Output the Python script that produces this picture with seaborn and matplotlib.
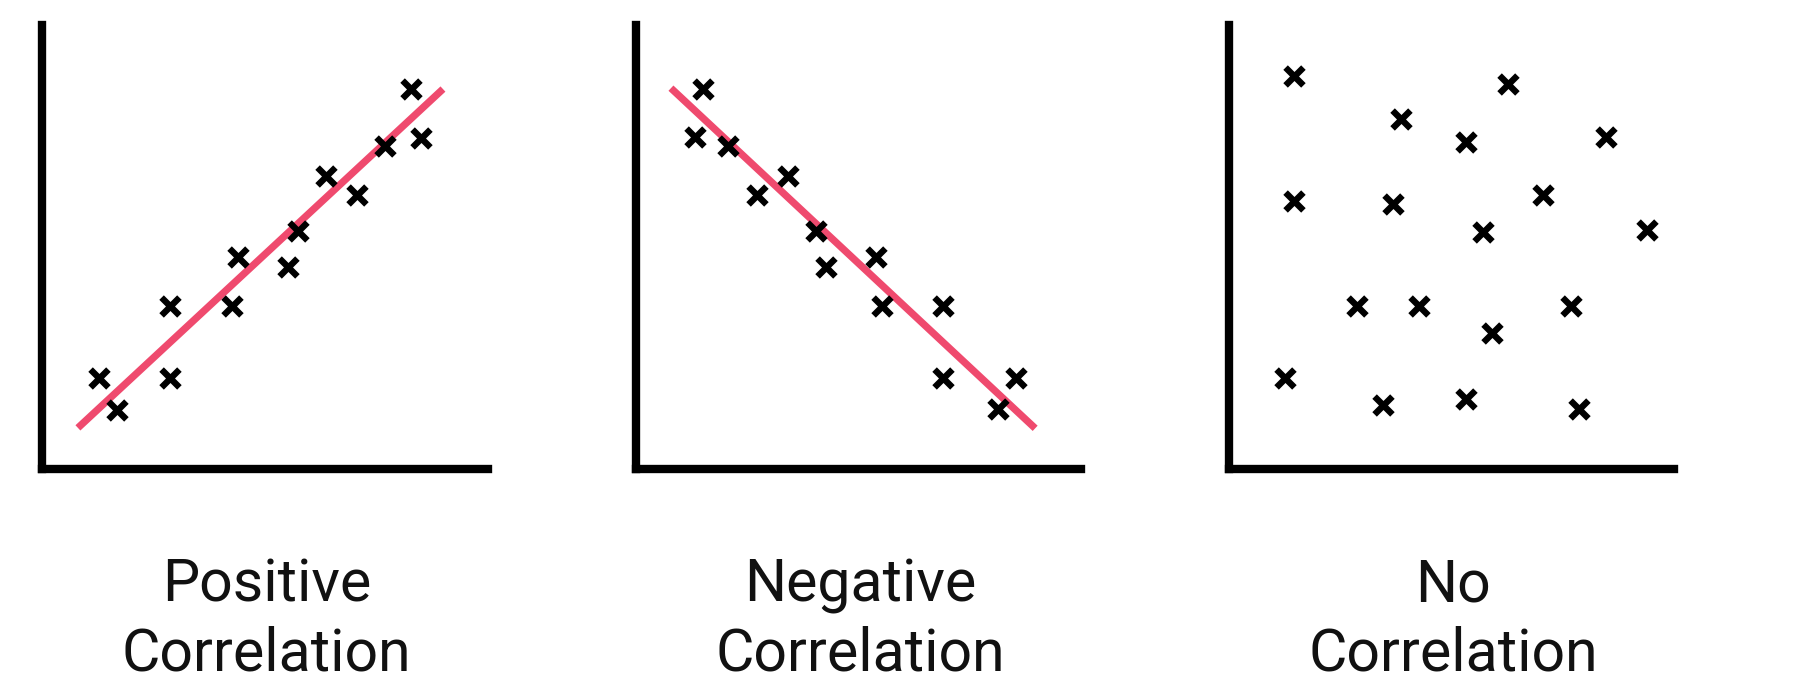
import matplotlib
matplotlib.use("Agg")
import matplotlib.pyplot as plt
import seaborn as sns
import pandas as pd

# scatter points (axis range 0..10 on both axes)
pos_x = [1.27, 1.67, 2.85, 2.85, 4.37, 4.23, 5.48, 5.70, 6.33, 7.02, 7.64, 8.22, 8.44]
pos_y = [2.04, 1.32, 3.65, 2.04, 4.74, 3.65, 4.52, 5.32, 6.55, 6.13, 7.23, 8.50, 7.40]
pos_line_x = [0.80, 8.93]
pos_line_y = [0.92, 8.50]

neg_x = [1.49, 1.32, 2.06, 2.69, 3.39, 4.02, 4.23, 5.36, 5.50, 6.86, 6.86, 8.48, 8.07]
neg_y = [8.49, 7.43, 7.23, 6.13, 6.56, 5.33, 4.53, 4.75, 3.65, 3.65, 2.03, 2.03, 1.34]
neg_line_x = [0.78, 8.91]
neg_line_y = [8.52, 0.91]

none_x = [1.45, 3.84, 6.23, 5.29, 8.41, 1.45, 3.65, 7.02, 5.68, 9.32,
          2.85, 4.23, 7.63, 5.88, 1.25, 3.44, 5.29, 7.82]
none_y = [8.79, 7.82, 8.61, 7.31, 7.43, 6.00, 5.93, 6.13, 5.31, 5.35,
          3.65, 3.65, 3.65, 3.05, 2.03, 1.43, 1.56, 1.34]

titles = ["Positive\nCorrelation", "Negative\nCorrelation", "No\nCorrelation"]

RED = "#EF4A6E"

sns.set_style("white")
plt.rcParams['font.family'] = ['Roboto', 'DejaVu Sans']

W, H = 1817, 691
fig = plt.figure(figsize=(W / 100, H / 100), dpi=100)

# axes boxes in pixels: (left, right); bottom=469, top=22 for all
lefts = [42, 636, 1229]
rights = [491, 1084, 1677]
top_px, bottom_px = 22, 469

panels = [
    (pos_x, pos_y, pos_line_x, pos_line_y),
    (neg_x, neg_y, neg_line_x, neg_line_y),
    (none_x, none_y, None, None),
]

for i, (xs, ys, lx, ly) in enumerate(panels):
    l, r = lefts[i], rights[i]
    ax = fig.add_axes([l / W, (H - bottom_px) / H, (r - l) / W, (bottom_px - top_px) / H])
    df = pd.DataFrame({"x": xs, "y": ys})
    if lx is not None:
        sns.lineplot(x=lx, y=ly, ax=ax, color=RED, linewidth=5.2,
                     solid_capstyle="butt", zorder=1)
    sns.scatterplot(data=df, x="x", y="y", ax=ax, marker="x", s=165,
                    color="black", linewidth=4.6, zorder=2)
    ax.set_xlim(0, 10)
    ax.set_ylim(0, 10)
    ax.set_xticks([])
    ax.set_yticks([])
    ax.set_xlabel("")
    ax.set_ylabel("")
    sns.despine(ax=ax)
    for side in ["left", "bottom"]:
        ax.spines[side].set_linewidth(6)
        ax.spines[side].set_color("black")
        ax.spines[side].set_capstyle("projecting")
        # projecting caps add ~3px at the far end, pull the bound in
        ax.spines[side].set_bounds(0, 9.93)

    # caption under each panel, one line at a time
    cx = (l + r) / 2 / W
    for j, line in enumerate(titles[i].split("\n")):
        base_px = 601.7 + j * 68.5
        fig.text(cx, (H - base_px) / H, line, ha="center", va="baseline",
                 fontsize=42.5, color="#111111")

fig.savefig("out.png", dpi=100, facecolor="white")
